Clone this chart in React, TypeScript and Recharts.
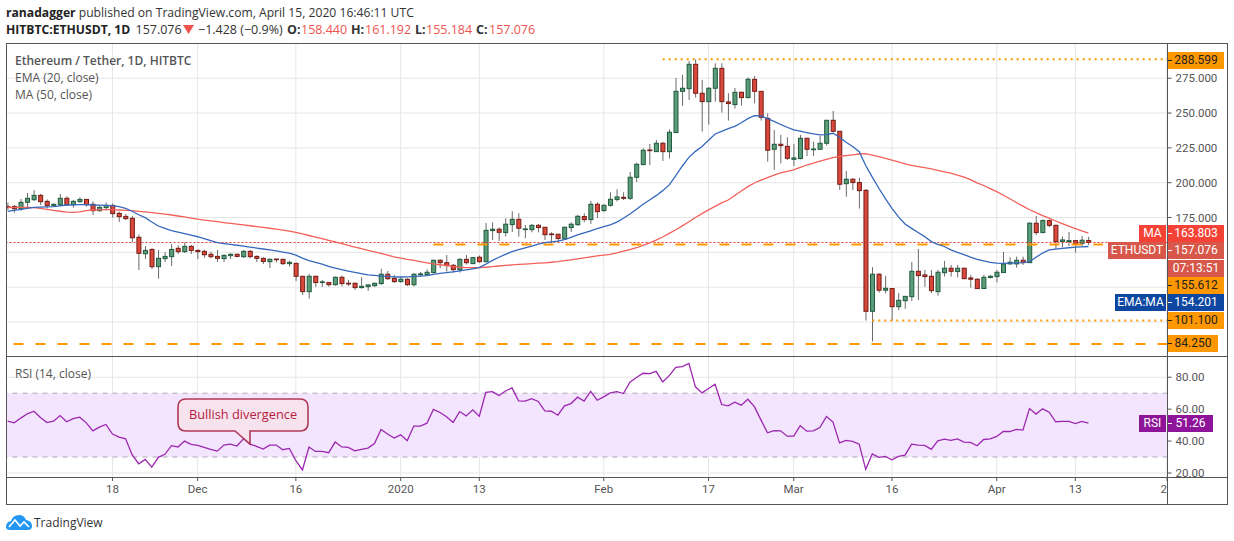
import {
  Bar,
  CartesianGrid,
  ComposedChart,
  Line,
  ReferenceArea,
  ReferenceLine,
  XAxis,
  YAxis,
} from 'recharts'

const opens = [
  182.8, 183.0, 181.3, 185.9, 187.8, 190.9, 186.6, 183.5, 184.2, 188.8,
  184.2, 186.4, 188.0, 184.5, 179.9, 182.1, 183.7, 178.0, 175.8, 174.4,
  160.8, 149.0, 152.1, 139.7, 145.5, 146.9, 152.9, 150.5, 154.3, 151.4,
  150.7, 148.6, 147.1, 145.5, 147.6, 148.6, 146.9, 150.7, 147.1, 145.7,
  143.3, 145.2, 145.0, 141.9, 142.1, 132.8, 121.8, 132.8, 128.3, 128.3,
  126.8, 132.1, 127.8, 127.8, 124.7, 125.4, 126.1, 127.6, 134.3, 131.4,
  129.0, 130.7, 126.8, 134.0, 134.0, 135.5, 144.3, 142.6, 140.7, 137.6,
  145.0, 141.9, 146.5, 143.3, 165.6, 166.6, 164.2, 169.9, 173.7, 166.3,
  166.3, 169.4, 168.0, 163.2, 163.0, 159.6, 167.8, 169.9, 175.7, 173.5,
  184.5, 180.0, 183.8, 188.0, 189.5, 188.8, 203.9, 213.0, 223.5, 222.3,
  228.3, 222.3, 236.0, 265.6, 267.5, 285.0, 264.2, 258.2, 267.8, 282.1,
  258.0, 256.1, 264.9, 261.1, 274.2, 265.6, 246.2, 224.0, 227.6, 226.1,
  216.8, 217.3, 231.9, 223.7, 224.0, 228.3, 244.8, 236.9, 199.3, 202.5,
  200.1, 194.5, 107.7, 134.3, 122.8, 124.0, 111.0, 115.3, 118.2, 136.4,
  133.8, 132.8, 121.8, 135.4, 138.6, 136.2, 138.6, 131.6, 130.7, 124.0,
  131.9, 132.6, 135.5, 141.7, 141.7, 144.3, 142.6, 170.9, 164.2, 172.8,
  169.4, 157.7, 157.7, 158.4, 156.5, 158.44,
]

const highs = [
  185.6, 184.0, 188.3, 192.6, 194.7, 191.9, 188.0, 185.2, 191.9, 190.2,
  187.6, 189.5, 188.3, 186.6, 183.5, 185.9, 185.2, 179.2, 177.5, 176.1,
  162.9, 154.5, 152.9, 151.7, 150.2, 156.0, 155.0, 157.2, 155.3, 152.1,
  151.9, 150.5, 151.7, 148.8, 149.3, 149.0, 151.7, 151.7, 147.8, 146.4,
  145.7, 145.2, 145.4, 144.0, 142.6, 133.1, 134.5, 133.3, 130.2, 128.8,
  132.6, 133.3, 130.2, 128.3, 132.1, 127.3, 128.3, 138.1, 136.6, 133.8,
  132.1, 131.4, 135.0, 135.9, 137.8, 144.8, 145.0, 148.1, 141.7, 145.7,
  148.1, 146.7, 147.7, 171.1, 171.6, 167.8, 174.5, 179.5, 178.0, 169.7,
  170.2, 170.4, 168.0, 164.4, 163.0, 168.5, 171.6, 176.9, 178.0, 186.9,
  186.0, 184.3, 193.1, 195.3, 193.1, 207.7, 214.4, 224.7, 227.8, 230.7,
  229.3, 238.3, 275.2, 277.4, 287.4, 288.6, 273.8, 268.5, 285.7, 285.7,
  264.2, 268.0, 265.4, 275.7, 276.6, 265.6, 249.8, 237.9, 234.3, 232.6,
  227.8, 234.3, 231.9, 229.5, 233.6, 244.8, 251.5, 236.9, 208.4, 203.2,
  203.6, 195.5, 139.3, 135.0, 133.1, 124.0, 120.8, 118.4, 143.1, 152.4,
  137.4, 137.4, 137.4, 143.8, 141.0, 141.0, 139.0, 133.8, 131.4, 133.8,
  133.8, 137.4, 150.3, 146.5, 146.9, 146.9, 171.6, 176.1, 173.7, 173.7,
  169.9, 161.3, 164.6, 158.9, 161.8, 161.192,
]

const lows = [
  180.4, 178.5, 179.9, 182.1, 186.8, 184.0, 181.6, 183.3, 183.3, 183.5,
  182.1, 185.6, 182.8, 176.8, 179.2, 180.1, 174.9, 171.8, 173.2, 157.2,
  137.3, 145.2, 138.0, 131.1, 143.1, 140.2, 148.8, 149.5, 148.8, 145.2,
  146.2, 145.7, 143.1, 143.1, 145.2, 146.4, 145.9, 145.9, 143.1, 141.6,
  138.8, 142.8, 140.9, 139.7, 129.4, 119.4, 116.8, 125.2, 125.2, 125.4,
  126.1, 125.6, 125.9, 123.0, 124.0, 122.3, 125.2, 126.6, 130.2, 128.0,
  128.3, 125.9, 125.4, 132.6, 133.1, 135.0, 138.6, 136.2, 135.5, 135.5,
  141.2, 141.7, 142.6, 142.9, 158.9, 158.2, 161.3, 164.6, 161.3, 160.1,
  164.4, 164.4, 158.9, 156.5, 157.2, 158.9, 164.6, 169.0, 171.6, 170.4,
  174.7, 179.0, 182.8, 186.5, 187.6, 187.6, 200.5, 212.5, 212.7, 222.3,
  215.6, 217.3, 236.0, 255.1, 259.4, 261.1, 236.7, 241.7, 258.2, 250.3,
  244.6, 253.2, 255.3, 260.4, 257.0, 244.6, 215.1, 209.2, 213.9, 216.3,
  212.0, 216.8, 219.2, 219.2, 223.5, 226.6, 236.2, 194.8, 190.0, 194.8,
  181.4, 101.0, 86.0, 121.1, 120.4, 101.0, 108.6, 109.4, 115.1, 115.8,
  125.2, 120.8, 118.9, 132.6, 132.6, 132.1, 130.7, 124.7, 124.0, 124.0,
  131.4, 128.5, 135.5, 141.2, 139.0, 141.0, 142.6, 162.5, 163.7, 168.0,
  152.2, 153.6, 154.6, 149.8, 154.6, 155.184,
]

const closes = [
  182.3, 181.3, 185.9, 188.8, 190.9, 186.4, 183.7, 184.5, 188.8, 184.2,
  186.6, 188.0, 184.2, 179.9, 182.3, 183.7, 177.8, 175.6, 174.2, 160.5,
  149.3, 151.4, 139.7, 145.7, 147.1, 152.1, 150.5, 154.3, 151.4, 150.5,
  148.3, 146.9, 145.7, 147.8, 148.6, 147.1, 150.7, 146.9, 145.7, 143.5,
  145.0, 144.7, 141.9, 142.8, 132.8, 121.8, 132.8, 128.3, 128.8, 126.8,
  132.1, 127.6, 127.3, 124.7, 125.6, 126.6, 127.8, 134.3, 131.1, 129.0,
  130.7, 126.8, 134.3, 134.5, 135.7, 144.3, 142.6, 140.5, 137.6, 145.0,
  142.6, 146.2, 143.3, 165.8, 166.6, 164.4, 170.2, 173.7, 167.3, 166.8,
  169.4, 167.8, 162.7, 162.7, 159.9, 168.0, 170.2, 175.9, 173.5, 184.5,
  179.2, 183.8, 188.1, 189.8, 188.8, 203.9, 213.2, 223.3, 223.0, 228.3,
  222.3, 236.2, 265.6, 267.8, 285.0, 264.2, 258.2, 267.8, 282.1, 258.2,
  256.8, 264.9, 261.1, 274.2, 265.6, 247.0, 223.3, 227.6, 226.6, 217.5,
  217.8, 231.9, 224.0, 224.2, 228.3, 244.8, 236.9, 198.9, 202.5, 200.1,
  194.3, 107.7, 134.3, 122.8, 124.2, 111.0, 115.6, 118.4, 136.4, 133.3,
  132.6, 122.5, 135.7, 138.6, 136.4, 138.6, 131.1, 130.7, 124.0, 132.1,
  132.8, 135.7, 141.7, 142.9, 144.3, 142.6, 170.9, 164.2, 172.8, 169.4,
  157.7, 158.9, 158.4, 156.5, 158.7, 157.076,
]

const ema20 = [
  179.4, 180.1, 180.9, 181.6, 182.3, 182.5, 182.6, 182.8, 183.4, 184.0,
  184.1, 184.2, 184.2, 184.0, 183.9, 183.7, 183.5, 182.8, 181.6, 179.5,
  177.0, 174.9, 171.8, 168.9, 167.2, 165.6, 164.5, 163.4, 162.3, 161.2,
  159.8, 158.4, 156.9, 156.3, 155.7, 155.1, 154.5, 153.8, 153.1, 152.4,
  151.7, 151.0, 150.2, 149.5, 148.0, 145.9, 144.0, 142.8, 141.5, 140.0,
  138.6, 137.6, 136.6, 135.6, 134.7, 133.8, 133.4, 133.0, 132.7, 132.4,
  132.3, 132.4, 132.7, 133.0, 133.3, 134.2, 134.9, 135.4, 136.0, 136.7,
  137.4, 138.2, 139.0, 141.5, 144.2, 146.5, 148.6, 150.5, 152.0, 153.2,
  154.5, 155.9, 157.0, 157.5, 158.0, 159.2, 160.7, 162.5, 164.0, 165.5,
  167.0, 168.4, 169.7, 171.7, 174.5, 177.5, 181.0, 184.5, 187.6, 190.7,
  194.3, 198.4, 205.0, 212.0, 218.2, 222.5, 226.0, 230.5, 235.0, 236.9,
  238.8, 240.5, 243.0, 246.0, 248.2, 247.9, 246.0, 244.0, 241.8, 239.8,
  237.9, 237.0, 236.0, 235.0, 234.3, 234.5, 235.5, 232.6, 229.0, 226.0,
  222.3, 212.3, 204.0, 196.0, 188.5, 181.6, 175.5, 170.4, 167.2, 164.2,
  161.3, 157.7, 155.8, 154.2, 151.8, 150.0, 148.4, 146.5, 145.0, 143.8,
  142.8, 142.2, 142.1, 142.2, 142.4, 142.6, 143.4, 146.5, 149.5, 151.7,
  152.3, 152.8, 153.3, 153.7, 154.0, 154.2,
]

const ma50 = [
  182.2, 182.3, 182.3, 182.2, 182.1, 181.6, 180.9, 180.2, 179.5, 178.9,
  178.7, 179.1, 179.9, 180.4, 180.5, 180.6, 180.6, 180.4, 180.1, 179.9,
  179.4, 179.0, 178.5, 178.0, 177.5, 176.8, 176.1, 175.4, 174.6, 173.8,
  173.2, 172.6, 172.0, 171.4, 170.8, 170.3, 169.7, 169.1, 168.5, 167.9,
  167.3, 166.6, 165.9, 165.2, 164.3, 163.2, 162.1, 161.0, 159.8, 158.6,
  157.5, 156.2, 155.0, 153.8, 152.6, 151.4, 150.4, 149.2, 148.0, 146.8,
  145.8, 144.9, 144.2, 143.3, 142.5, 141.7, 141.1, 140.5, 139.9, 139.3,
  139.0, 139.0, 139.0, 139.3, 139.7, 140.2, 140.6, 141.0, 141.3, 141.6,
  141.9, 142.2, 142.5, 142.9, 143.3, 144.0, 144.6, 145.3, 146.0, 146.7,
  147.4, 148.0, 148.6, 149.6, 150.8, 152.0, 153.3, 155.0, 156.8, 158.8,
  161.0, 163.6, 166.2, 169.0, 172.0, 175.0, 177.8, 180.5, 183.0, 185.5,
  187.6, 190.8, 194.0, 197.2, 199.8, 201.8, 203.7, 205.5, 207.0, 208.2,
  209.2, 211.0, 212.7, 214.0, 215.5, 216.8, 218.0, 218.8, 219.5, 220.0,
  220.6, 220.8, 219.8, 218.7, 217.5, 216.2, 214.9, 213.5, 212.4, 211.6,
  210.8, 210.0, 208.9, 207.8, 206.8, 205.5, 204.0, 202.2, 199.9, 198.0,
  195.8, 193.6, 191.0, 188.5, 185.8, 183.2, 180.6, 178.5, 176.4, 174.5,
  172.5, 170.6, 168.8, 167.0, 165.4, 163.8,
]

const rsi14 = [
  52.5, 51.4, 54.4, 57.1, 58.7, 54.8, 51.6, 52.5, 56.0, 52.1,
  54.0, 55.0, 51.4, 46.4, 48.7, 50.4, 44.4, 42.5, 41.4, 31.5,
  25.8, 28.5, 23.7, 29.8, 31.7, 37.1, 36.3, 40.0, 37.9, 37.3,
  36.0, 34.8, 33.7, 37.5, 38.1, 36.9, 41.4, 38.1, 36.7, 35.0,
  37.5, 37.5, 34.6, 35.4, 27.7, 21.9, 36.3, 33.5, 33.5, 32.7,
  39.4, 36.3, 36.0, 33.9, 34.8, 35.6, 38.5, 47.3, 44.4, 41.9,
  43.9, 40.2, 49.4, 49.4, 51.2, 59.8, 57.9, 55.2, 51.6, 58.5,
  55.8, 59.6, 55.6, 70.6, 71.0, 68.5, 71.4, 73.3, 65.2, 65.0,
  66.6, 64.8, 58.9, 58.7, 56.2, 62.1, 63.5, 67.5, 65.0, 71.2,
  65.6, 67.7, 70.2, 71.0, 69.8, 76.9, 79.8, 82.5, 82.3, 83.7,
  77.1, 81.0, 86.2, 86.6, 88.7, 74.0, 70.2, 72.9, 75.6, 62.9,
  62.1, 64.4, 62.5, 66.2, 61.6, 53.3, 45.2, 46.6, 46.4, 43.1,
  43.1, 49.6, 46.2, 46.4, 48.5, 55.4, 51.9, 38.9, 40.4, 39.8,
  38.1, 22.3, 31.9, 29.8, 30.4, 28.3, 30.4, 31.2, 38.1, 37.5,
  37.3, 34.8, 40.2, 41.2, 40.4, 41.4, 39.4, 39.2, 37.1, 41.0,
  41.4, 42.9, 46.0, 46.0, 47.3, 46.9, 60.4, 56.9, 60.2, 58.1,
  52.1, 52.3, 52.3, 51.0, 52.3, 51.26,
]

// x ticks are day indexes counted from 2 Nov 2019
const dayTicks = [16, 29, 44, 60, 72, 91, 107, 120, 135, 151, 163, 177]
const dayLabels = ['18', 'Dec', '16', '2020', '13', 'Feb', '17', 'Mar', '16', 'Apr', '13', '2']
const priceTicks = [100, 125, 150, 175, 200, 225, 250, 275]
const priceLabelTicks = [175, 200, 225, 250, 275]
const rsiTicks = [20, 40, 60, 80]

const rows = opens.map((open, i) => ({
  day: i,
  open,
  high: highs[i],
  low: lows[i],
  close: closes[i],
  ema: ema20[i],
  ma: ma50[i],
  rsi: rsi14[i],
}))

const FONT = 'Roboto, sans-serif'
const HEAD_FONT = '"Open Sans", sans-serif'
const TEXT = '#555'
const FRAME = '#555'
const GRID = '#e6e6e6'
const ORANGE = '#ff9800'
const RED_TEXT = '#ef5350'
const PRICE_TOP = 44
const PANEL_SPLIT = 356
const RSI_BOTTOM = 477
const FRAME_BOTTOM = 505
const XDOMAIN = [-0.18, 177.07]

function Candle(props: any) {
  const { x, y, width, height, payload } = props
  const { open, high, low, close } = payload
  const up = close >= open
  const px = height / (high - low)
  const top = y + (high - Math.max(open, close)) * px
  const bodyH = Math.max(Math.abs(open - close) * px, 0.6)
  const cx = x + width / 2
  return (
    <g>
      <line x1={cx} x2={cx} y1={y} y2={y + height} stroke="#6b6b6b" strokeWidth={1} />
      <rect
        x={x + 0.5}
        y={top}
        width={width - 1}
        height={bodyH}
        fill={up ? '#5c9c7a' : '#d9483b'}
        stroke={up ? '#1e5a3c' : '#741c15'}
        strokeWidth={1}
      />
    </g>
  )
}

function DayTick(props: any) {
  const { x, y, index } = props
  const last = index === dayLabels.length - 1
  return (
    <text x={x} y={y + 10} textAnchor={last ? 'end' : 'middle'} fontSize={11.5} fontFamily={FONT} fill={TEXT}>
      {dayLabels[index]}
    </text>
  )
}

const tagLeft = [
  { text: 'MA', left: 1139, top: 225, width: 27, height: 17, bg: '#f44336' },
  { text: 'ETHUSDT', left: 1108, top: 242, width: 58, height: 17, bg: '#d7584a' },
  { text: 'EMA:MA', left: 1115, top: 294, width: 51, height: 17, bg: '#0d47a1' },
  { text: 'RSI', left: 1139, top: 415, width: 27, height: 17, bg: '#8e1599' },
]

const tagRight = [
  { text: '288.599', top: 52, width: 56, bg: ORANGE, color: '#222', mark: '#222' },
  { text: '163.803', top: 225, width: 56, bg: '#f44336', color: '#fff', mark: '#fff' },
  { text: '157.076', top: 242, width: 56, bg: '#d7584a', color: '#fff', mark: '#fff' },
  { text: '07:13:51', top: 260, width: 56, bg: '#d7584a', color: '#fff' },
  { text: '155.612', top: 277, width: 56, bg: ORANGE, color: '#222', mark: '#222' },
  { text: '154.201', top: 294, width: 56, bg: '#0d47a1', color: '#fff', mark: '#fff' },
  { text: '101.100', top: 312, width: 56, bg: ORANGE, color: '#222', mark: '#222' },
  { text: '84.250', top: 335, width: 50, bg: ORANGE, color: '#222', mark: '#222' },
  { text: '51.26', top: 415, width: 45, bg: '#8e1599', color: '#fff', mark: '#fff' },
]

const headerItems = [
  { text: '157.076', left: 135.5 },
  { text: '−1.428 (−0.9%)', left: 198 },
  { text: 'O:', left: 287, bold: true },
  { text: '158.440', left: 301, red: true },
  { text: 'H:', left: 351, bold: true },
  { text: '161.192', left: 365, red: true },
  { text: 'L:', left: 415, bold: true },
  { text: '155.184', left: 426, red: true },
  { text: 'C:', left: 476, bold: true },
  { text: '157.076', left: 489, red: true },
]

function Tag({ text, left, top, width, height, bg, color, mark }: any) {
  return (
    <div
      style={{
        position: 'absolute',
        left,
        top,
        width,
        height,
        lineHeight: `${height}px`,
        background: bg,
        color,
        textAlign: 'center',
        fontFamily: FONT,
        fontSize: 12,
      }}
    >
      {text}
      {mark && <div style={{ position: 'absolute', left: 0, top: 8, width: 4, height: 1, background: mark }} />}
    </div>
  )
}

function Header() {
  const line = { position: 'absolute', top: 21, height: 17, lineHeight: '17px' } as const
  return (
    <div style={{ position: 'absolute', left: 0, top: 0, fontFamily: HEAD_FONT, fontSize: 12.5, color: '#333', whiteSpace: 'nowrap' }}>
      <div style={{ position: 'absolute', left: 6, top: 4, height: 17, lineHeight: '17px', fontSize: 12.15 }}>
        <b style={{ color: '#222' }}>ranadagger</b> published on TradingView.com, April 15, 2020 16:46:11 UTC
      </div>
      <b style={{ ...line, left: 6, fontSize: 12.15, color: '#222' }}>HITBTC:ETHUSDT, 1D</b>
      {headerItems.map((h) => (
        <span
          key={h.left}
          style={{ ...line, left: h.left, fontWeight: h.bold ? 700 : 400, color: h.red ? RED_TEXT : '#333' }}
        >
          {h.text}
        </span>
      ))}
    </div>
  )
}

function Overlay() {
  return (
    <svg width={1234} height={541} style={{ position: 'absolute', left: 0, top: 0 }}>
      <polygon points="183,25 194,25 188.5,34" fill={RED_TEXT} />
      {/* callout */}
      <path
        d="M186 399 H300 Q308 399 308 407 V423 Q308 431 300 431 H250 L250 444 L235 431 H186 Q178 431 178 423 V407 Q178 399 186 399 Z"
        fill="#f6e3ee"
        stroke="#b03a58"
        strokeWidth={1.6}
      />
      <text x={243} y={419} textAnchor="middle" fontFamily={HEAD_FONT} fontSize={12.8} fill="#b71c3c">
        Bullish divergence
      </text>
      {/* logo */}
      <path
        d="M6 527 Q6 522 11 521 Q13 515 19 515 Q24 515 26 520 Q32 521 32 526 Q32 530 28 530 H10 Q6 530 6 527 Z"
        fill="#2196f3"
      />
      <path d="M9 527 L15 520 L20 526 L24 522 L29 527" fill="none" stroke="#fff" strokeWidth={1.6} />
      <text x={34} y={527} fontFamily={HEAD_FONT} fontSize={12} fill="#333">
        TradingView
      </text>
    </svg>
  )
}

function Legend() {
  const line = { position: 'absolute', left: 15, fontFamily: HEAD_FONT, fontSize: 12, color: TEXT, whiteSpace: 'nowrap' } as const
  return (
    <>
      <div style={{ ...line, top: 52, fontWeight: 600 }}>Ethereum / Tether, 1D, HITBTC</div>
      <div style={{ ...line, top: 69 }}>EMA (20, close)</div>
      <div style={{ ...line, top: 86 }}>MA (50, close)</div>
      <div style={{ ...line, top: 365 }}>RSI (14, close)</div>
    </>
  )
}

function Frame() {
  const bar = { position: 'absolute', background: FRAME } as const
  return (
    <>
      <div style={{ position: 'absolute', left: 0, top: 44, width: 6, height: PANEL_SPLIT - 44, background: '#fff' }} />
      <div style={{ ...bar, left: 6, top: 43, width: 1221, height: 1 }} />
      <div style={{ ...bar, left: 6, top: PANEL_SPLIT, width: 1221, height: 1 }} />
      <div style={{ ...bar, left: 6, top: RSI_BOTTOM, width: 1221, height: 1 }} />
      <div style={{ ...bar, left: 6, top: FRAME_BOTTOM - 1, width: 1221, height: 1 }} />
      <div style={{ ...bar, left: 6, top: 43, width: 1, height: FRAME_BOTTOM - 43 }} />
      <div style={{ ...bar, left: 1167, top: 43, width: 1, height: FRAME_BOTTOM - 43 }} />
      <div style={{ ...bar, left: 1227, top: 43, width: 1, height: FRAME_BOTTOM - 43 }} />
    </>
  )
}

export default function App() {
  const tickStyle = { fontSize: 11.5, fontFamily: FONT, fill: TEXT }
  return (
    <div style={{ position: 'absolute', left: 0, top: 0, width: 1234, height: 541, background: '#fff', overflow: 'hidden' }}>
      <div style={{ position: 'absolute', left: 0, top: 0 }}>
        <ComposedChart width={1234} height={PANEL_SPLIT} data={rows} margin={{ top: PRICE_TOP, right: 0, bottom: 0, left: 6.5 }}>
          <CartesianGrid stroke={GRID} strokeWidth={1} syncWithTicks />
          <XAxis dataKey="day" type="number" domain={XDOMAIN} ticks={dayTicks} hide />
          <YAxis
            orientation="right"
            width={66.5}
            domain={[75.59, 299.57]}
            ticks={priceTicks}
            tickFormatter={(v: number) => (priceLabelTicks.includes(v) ? v.toFixed(3) : '')}
            tick={tickStyle}
            axisLine={false}
            tickLine={{ stroke: FRAME }}
            tickSize={4}
            tickMargin={4}
            interval={0}
          />
          <ReferenceLine y={157.076} stroke="#e53935" strokeDasharray="2 2" strokeWidth={1} />
          <ReferenceLine segment={[{ x: 100, y: 288.599 }, { x: 177.07, y: 288.599 }]} stroke={ORANGE} strokeDasharray="2 4" strokeWidth={2} />
          <ReferenceLine segment={[{ x: 65, y: 155.612 }, { x: 167.2, y: 155.612 }]} stroke={ORANGE} strokeDasharray="10 12" strokeWidth={2} />
          <ReferenceLine segment={[{ x: 132, y: 101.1 }, { x: 177.07, y: 101.1 }]} stroke={ORANGE} strokeDasharray="2 4" strokeWidth={2} />
          <ReferenceLine y={84.25} stroke={ORANGE} strokeDasharray="10 12" strokeWidth={2} />
          <Line dataKey="ma" stroke="#f4605a" strokeWidth={1.3} dot={false} isAnimationActive={false} />
          <Line dataKey="ema" stroke="#3568bd" strokeWidth={1.3} dot={false} isAnimationActive={false} />
          <Bar dataKey={(d: any) => [d.low, d.high]} barSize={5} shape={Candle} isAnimationActive={false} />
        </ComposedChart>
      </div>
      <div style={{ position: 'absolute', left: 0, top: 0 }}>
        <ComposedChart width={1234} height={FRAME_BOTTOM} data={rows} margin={{ top: PANEL_SPLIT, right: 0, bottom: 0, left: 6.5 }}>
          <ReferenceArea y1={30} y2={70} fill="#f3e5fd" fillOpacity={1} stroke="none" />
          <CartesianGrid stroke={GRID} strokeWidth={1} syncWithTicks />
          <XAxis
            dataKey="day"
            type="number"
            domain={XDOMAIN}
            ticks={dayTicks}
            height={28}
            tick={<DayTick />}
            tickLine={{ stroke: FRAME }}
            tickSize={4}
            axisLine={false}
            interval={0}
          />
          <YAxis
            orientation="right"
            width={66.5}
            domain={[17.5, 93.3]}
            ticks={rsiTicks}
            tickFormatter={(v: number) => v.toFixed(2)}
            tick={tickStyle}
            axisLine={false}
            tickLine={{ stroke: FRAME }}
            tickSize={4}
            tickMargin={4}
            interval={0}
          />
          <ReferenceLine y={70} stroke="#b0a8b4" strokeDasharray="5 5" />
          <ReferenceLine y={30} stroke="#b0a8b4" strokeDasharray="5 5" />
          <Line dataKey="rsi" stroke="#9c27b0" strokeWidth={1.3} dot={false} isAnimationActive={false} />
        </ComposedChart>
      </div>
      <Frame />
      <Header />
      <Legend />
      <Overlay />
      {tagLeft.map((t) => (
        <Tag key={t.text} {...t} color="#fff" />
      ))}
      {tagRight.map((t) => (
        <Tag key={t.text} {...t} left={1168} height={17} />
      ))}
    </div>
  )
}
